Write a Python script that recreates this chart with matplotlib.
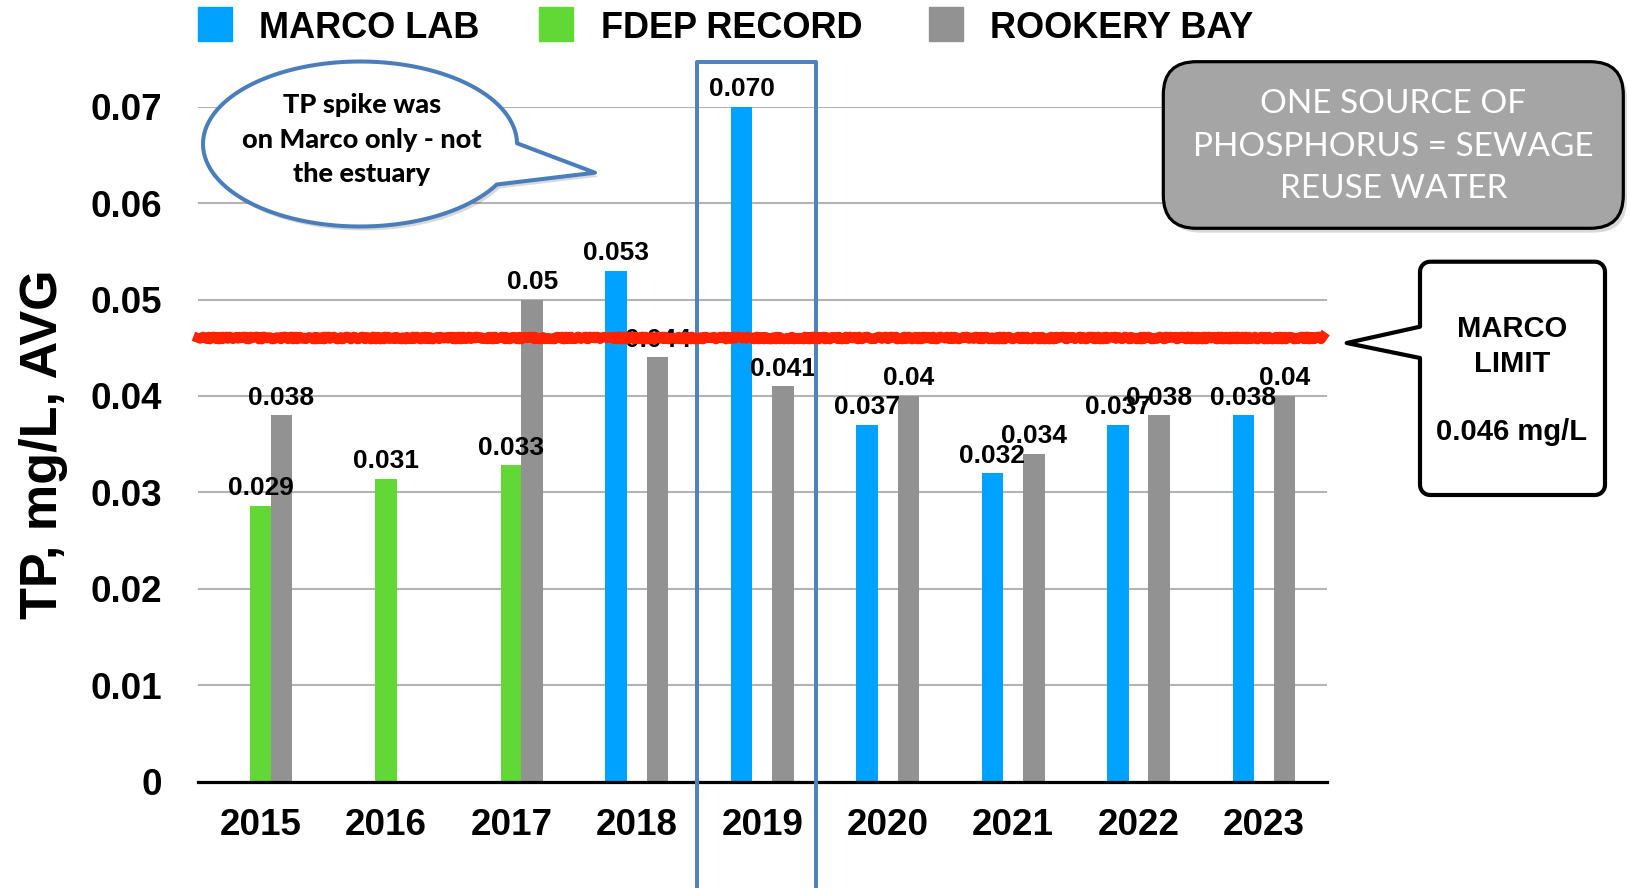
import numpy as np
import matplotlib
matplotlib.use('Agg')
import matplotlib.pyplot as plt
from matplotlib.patches import Rectangle, FancyBboxPatch, Polygon

plt.rcParams['font.family'] = ['Liberation Sans', 'DejaVu Sans']

# data
years = ['2015', '2016', '2017', '2018', '2019', '2020', '2021', '2022', '2023']
series_names = ['MARCO LAB', 'FDEP RECORD', 'ROOKERY BAY']
marco_lab = [np.nan, np.nan, np.nan, 0.053, 0.070, 0.037, 0.032, 0.037, 0.038]
fdep_record = [0.0286, 0.0314, 0.0328, np.nan, np.nan, np.nan, np.nan, np.nan, np.nan]
rookery_bay = [0.038, np.nan, 0.05, 0.044, 0.041, 0.04, 0.034, 0.038, 0.04]
marco_limit = 0.046
highlight_year = '2019'
ytick_vals = [0, 0.01, 0.02, 0.03, 0.04, 0.05, 0.06, 0.07]
bubble_text = 'TP spike was\non Marco only - not\nthe estuary'
source_text = 'ONE SOURCE OF\nPHOSPHORUS = SEWAGE\nREUSE WATER'

colors = ['#00a2ff', '#62d836', '#929292']
label_fmts = ['{:.3f}', '{:.3f}', '{:g}']
offsets = [-0.165, 0.0, 0.165]
bar_w = 0.172

W, H = 1630, 888
fig = plt.figure(figsize=(W / 100, H / 100), dpi=100)
ax = fig.add_axes([198 / W, 1 - 781.7 / H, 1128.7 / W, 675 / H])

x = np.arange(len(years))
for vals, off, c, fmt in zip([marco_lab, fdep_record, rookery_bay], offsets, colors, label_fmts):
    vals = np.array(vals, dtype=float)
    bars = ax.bar(x + off, vals, bar_w, color=c, zorder=2)
    labels = ['' if np.isnan(v) else fmt.format(v) for v in vals]
    ax.bar_label(bars, labels=labels, padding=4, fontsize=19, fontweight='bold', zorder=3)

ax.set_xlim(-0.5, len(years) - 0.5)
ax.set_ylim(0, 0.07)
ax.set_xticks(x)
ax.set_xticklabels(years, fontsize=26.5, fontweight='bold')
ax.set_yticks(ytick_vals)
ax.set_yticklabels([f'{v:g}' for v in ytick_vals], fontsize=26.5, fontweight='bold')
ax.tick_params(axis='x', length=0, pad=19)
ax.tick_params(axis='y', length=0, pad=26)
ax.yaxis.grid(True, color='#b3b3b3', lw=1.5)
ax.set_axisbelow(True)
for s in ['left', 'right', 'top']:
    ax.spines[s].set_visible(False)
ax.spines['bottom'].set_linewidth(2.3)
ax.spines['bottom'].set_zorder(3)

ax.set_ylabel('TP, mg/L, AVG', fontsize=37.5, fontweight='bold', va='center')
ax.yaxis.set_label_coords((44 - 198) / 1128.7, 0.5)

# rough red limit line
ln = ax.axhline(marco_limit, xmin=0.0, xmax=0.997, color='#ff2200', lw=7,
                zorder=5, clip_on=False)
ln.set_sketch_params(scale=1.5, length=6, randomness=4)

# box around the spike year
idx = years.index(highlight_year)
ax.add_patch(Rectangle((idx - 0.523, -0.02), 0.951, 0.0946, fill=False,
                       ec='#5082be', lw=2.9, zorder=4, clip_on=False, joinstyle='round'))

# overlay in pixel coordinates for legend and callouts
ov = fig.add_axes([0, 0, 1, 1], zorder=5)
ov.set_xlim(0, W)
ov.set_ylim(H, 0)
ov.axis('off')

leg_sq_x = [197.5, 539, 929]
leg_txt_x = [258.6, 601, 990]
for name, c, sx, tx in zip(series_names, colors, leg_sq_x, leg_txt_x):
    ov.add_patch(Rectangle((sx, 7.5), 34, 34, color=c))
    ov.text(tx, 38.3, name, fontsize=26, fontweight='bold', va='baseline', ha='left')


def shadow(pts, dx=3, dy=4):
    sh = [(px + dx, py + dy) for px, py in pts]
    ov.add_patch(Polygon(sh, closed=True, fc='black', ec='none', alpha=0.15))


# speech bubble
cx, cy, a, b = 360, 144, 157, 82.5
t = np.radians(np.linspace(29.4, 359.5, 120))
pts = [(cx + a * np.cos(v), cy + b * np.sin(v)) for v in t]
pts.append((595, 172.7))
shadow(pts)
ov.add_patch(Polygon(pts, closed=True, fc='white', ec='#4a7ebb', lw=2.9, joinstyle='round'))
for i, line in enumerate(bubble_text.split('\n')):
    ov.text(361.7, 113.3 + i * 34.2, line, fontsize=19.5, fontweight='black',
            family=['Lato', 'DejaVu Sans'], ha='center', va='baseline')

# grey source box
sh_box = FancyBboxPatch((1167, 66), 460, 166.6, boxstyle='round,pad=0,rounding_size=33',
                        fc='black', ec='none', alpha=0.15)
ov.add_patch(sh_box)
ov.add_patch(FancyBboxPatch((1163.3, 61.7), 460, 166.6, boxstyle='round,pad=0,rounding_size=33',
                            fc='#a5a5a5', ec='black', lw=2.3))
for i, line in enumerate(source_text.split('\n')):
    ov.text(1393.5, 113.3 + i * 42.5, line, fontsize=24, color='white',
            family=['Lato', 'DejaVu Sans'], ha='center', va='baseline')


# limit callout: rounded box with a tail on the left side
def corner(ccx, ccy, a0, a1, r, n=8):
    tt = np.radians(np.linspace(a0, a1, n))
    return [(ccx + r * np.cos(v), ccy + r * np.sin(v)) for v in tt]


x0, y0, x1, y1, r = 1420, 261.7, 1605, 495, 10
box = (corner(x0 + r, y0 + r, 180, 270, r) + corner(x1 - r, y0 + r, 270, 360, r)
       + corner(x1 - r, y1 - r, 0, 90, r) + corner(x0 + r, y1 - r, 90, 180, r)
       + [(x0, 358), (1346.7, 343), (x0, 326.7)])
ov.add_patch(Polygon(box, closed=True, fc='white', ec='black', lw=3, joinstyle='round'))
ov.text(1511.7, 336.7, 'MARCO', fontsize=21, fontweight='bold', ha='center', va='baseline')
ov.text(1511.7, 371.7, 'LIMIT', fontsize=21, fontweight='bold', ha='center', va='baseline')
ov.text(1511.7, 440, f'{marco_limit} mg/L', fontsize=21, fontweight='bold',
        ha='center', va='baseline')

fig.savefig('out.png', dpi=100)
